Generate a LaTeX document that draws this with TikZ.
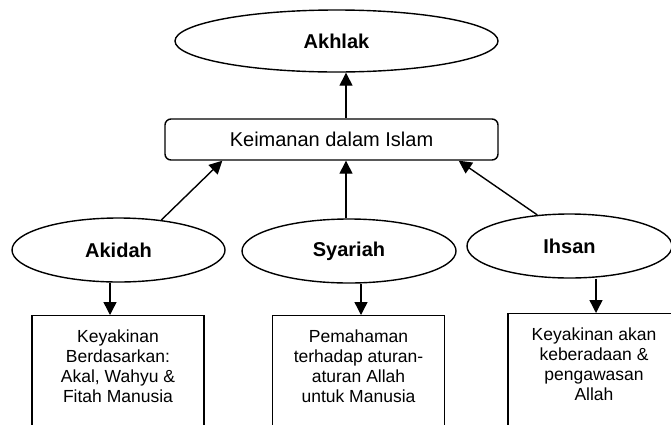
\documentclass[tikz,border=0pt]{standalone}
\usepackage{fontspec}
\setmainfont{Liberation Sans}
\usetikzlibrary{shapes.geometric,arrows.meta}
\begin{document}
\begin{tikzpicture}[x=1pt,y=-1pt,
  line width=1.4pt,
  oval/.style={draw,ellipse,inner sep=0pt,minimum height=64pt,
    font=\fontsize{20}{24}\selectfont\bfseries},
  topbox/.style={draw,rounded corners=6pt,minimum width=333pt,minimum height=41pt,
    inner sep=0pt,font=\fontsize{20}{24}\selectfont},
  infobox/.style={draw,anchor=north,minimum width=172pt,minimum height=140pt,inner sep=0pt},
  infotext/.style={anchor=north,inner sep=0pt,align=center,
    font=\fontsize{17.5}{20}\selectfont},
  arr/.style={-{Triangle[length=13pt,width=13pt]}}]
\useasboundingbox (0,0) rectangle (671,424);
\clip (0,0) rectangle (671,424);

% top level
\node[oval,minimum width=323pt,minimum height=62pt] (akhlak) at (336.5,41) {Akhlak};
\node[topbox] (iman) at (331.5,139.5) {Keimanan dalam Islam};

% three pillars
\node[oval,minimum width=213pt] (akidah) at (118.5,250) {Akidah};
\node[oval,minimum width=214pt] (syariah) at (349,251) {Syariah};
\node[oval,minimum width=205pt] (ihsan) at (569.5,246) {Ihsan};

% description boxes (running off the lower edge)
\node[infobox] (akbox) at (118,315) {};
\node[infobox] (sybox) at (358.5,315) {};
\node[infobox] (ihbox) at (594,313) {};

\node[infotext] (aktext) at ([yshift=-14pt]akbox.north)
  {Keyakinan\\Berdasarkan:\\Akal, Wahyu \&\\Fitah Manusia};
\node[infotext] (sytext) at ([yshift=-14pt]sybox.north)
  {Pemahaman\\terhadap aturan-\\aturan Allah\\untuk Manusia};
\node[infotext] (ihtext) at ([yshift=-14pt]ihbox.north)
  {Keyakinan akan\\keberadaan \&\\pengawasan\\Allah};

% connectors
\draw[arr] ([xshift=14.5pt]iman.north) -- ([xshift=14.5pt]iman.north |- akhlak.south);
\draw[arr] (akidah.35) -- ([xshift=58pt]iman.south west);
\draw[arr] ([xshift=14.5pt]iman.south |- syariah.north) -- ([xshift=14.5pt]iman.south);
\draw[arr] (ihsan.136) -- ([xshift=-40pt]iman.south east);

\draw[arr] ([xshift=-8pt]akbox.north |- akidah.south) -- ([xshift=-8pt]akbox.north);
\draw[arr] ([xshift=2.5pt]sybox.north |- syariah.south) -- ([xshift=2.5pt]sybox.north);
\draw[arr] ([xshift=2pt]ihbox.north |- ihsan.south) -- ([xshift=2pt]ihbox.north);
\end{tikzpicture}
\end{document}
